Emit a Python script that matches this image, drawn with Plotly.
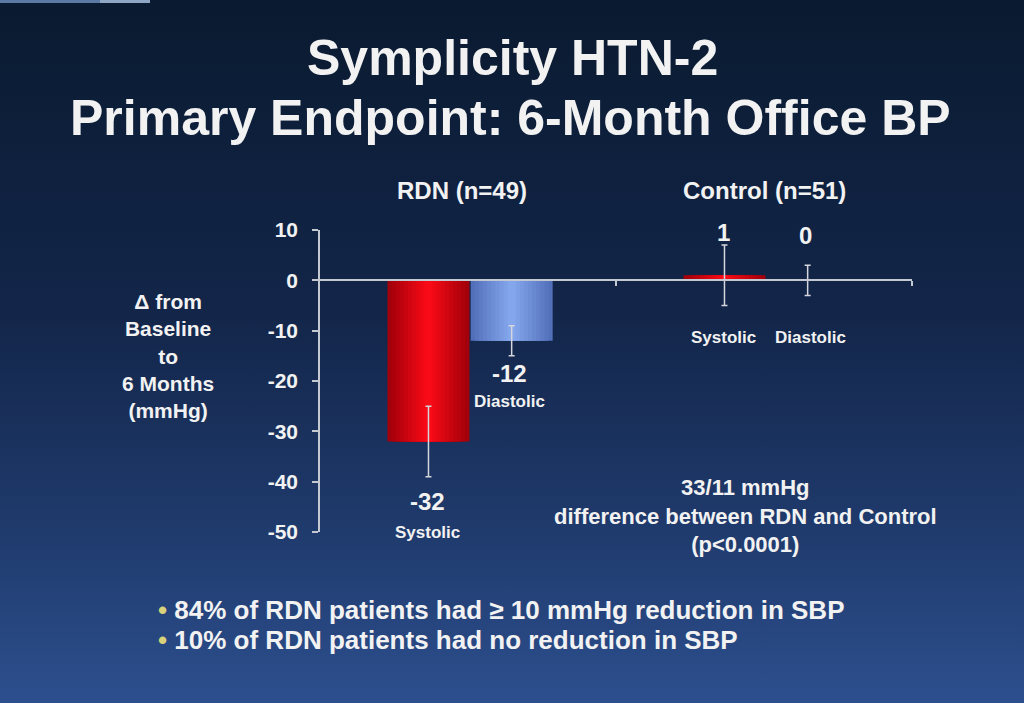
import base64
import plotly.graph_objects as go

# data
groups = ["RDN (n=49)", "Control (n=51)"]
systolic = [-32, 1]
diastolic = [-12, 0]
systolic_err = [7, 6]
diastolic_err = [3, 3]
y_ticks = [10, 0, -10, -20, -30, -40, -50]

W, H = 1024, 703
L, R, T, B = 320, 112, 230, 171
PW, PH = W - L - R, H - T - B


def px(x):
    return (x - L) / PW


def py(y):
    return (H - B - y) / PH


x_pos = list(range(len(groups)))
bw = 0.277  # width of one bar in category units
gap = 0.004


def mix(c1, c2, t):
    a = [int(c1[i:i + 2], 16) for i in (1, 3, 5)]
    b = [int(c2[i:i + 2], 16) for i in (1, 3, 5)]
    return "#" + "".join("%02x" % round(p + (q - p) * t) for p, q in zip(a, b))


# layered bars to fake the cylinder shading of the slide
n_layers = 10
fracs = [1 - k / n_layers for k in range(n_layers)]
red_shades = [mix("#a2000a", "#f80a16", k / (n_layers - 1)) for k in range(n_layers)]
blue_shades = [mix("#5270ba", "#84a6ec", k / (n_layers - 1)) for k in range(n_layers)]

fig = go.Figure()
for vals, errs, shades, centre in [(systolic, systolic_err, red_shades, -bw / 2 + 0.005),
                                   (diastolic, diastolic_err, blue_shades, bw / 2 + 0.005 + gap)]:
    for f, c in zip(fracs, shades):
        fig.add_trace(go.Bar(x=x_pos, y=vals, width=f * bw, offset=centre - f * bw / 2,
                             marker=dict(color=c, line=dict(width=0)), hoverinfo="skip"))
    fig.add_trace(go.Bar(
        x=x_pos, y=vals, width=bw, offset=centre - bw / 2,
        marker=dict(color="rgba(0,0,0,0)", line=dict(width=0)),
        error_y=dict(type="data", array=errs, color="#d4d6dc", thickness=1.5, width=3),
    ))

# background gradient of the slide
svg = ('<svg xmlns="http://www.w3.org/2000/svg" width="1024" height="703">'
       '<defs><linearGradient id="g" x1="0" y1="0" x2="0" y2="1">'
       '<stop offset="0" stop-color="#0a1a30"/>'
       '<stop offset="0.45" stop-color="#13264a"/>'
       '<stop offset="0.75" stop-color="#1f3a6c"/>'
       '<stop offset="1" stop-color="#2d4f8e"/>'
       '</linearGradient></defs>'
       '<rect width="1024" height="703" fill="url(#g)"/>'
       '<rect width="100" height="3" fill="#5b7aa3"/>'
       '<rect x="100" width="50" height="3" fill="#8fa6c4"/></svg>')
bg = "data:image/svg+xml;base64," + base64.b64encode(svg.encode()).decode()

font = "Liberation Sans, Arial, sans-serif"
white = "#f2f2f2"
ann = []


def add(text, x, y, size, xref="paper", yref="paper", xanchor="center", color=white):
    ann.append(dict(text=text, x=x, y=y, xref=xref, yref=yref, showarrow=False,
                    xanchor=xanchor, yanchor="middle",
                    font=dict(family=font, size=size, color=color, weight="bold")))


add("Symplicity HTN-2", px(512), py(58), 50)
add("Primary Endpoint: 6-Month Office BP", px(510), py(118), 50)

add(groups[0], -0.02, py(190), 24, xref="x")
add(groups[1], 1.0, py(190), 24, xref="x")

add("\u0394 from<br>Baseline<br>to<br>6 Months<br>(mmHg)", px(168), py(356), 21)

off = bw / 2
# RDN labels
add(str(systolic[0]), 0 - off, -44, 24, xref="x", yref="y")
add("Systolic", 0 - off, -50, 17, xref="x", yref="y")
add(str(diastolic[0]), 0 + off, -18.5, 24, xref="x", yref="y")
add("Diastolic", 0 + off, -24, 17, xref="x", yref="y")
# Control labels
add(str(systolic[1]), 1 - off, 9.6, 24, xref="x", yref="y")
add(str(diastolic[1]), 1 + off, 9.0, 24, xref="x", yref="y")
add("Systolic", 1 - off, -11.3, 17, xref="x", yref="y")
add("Diastolic", 1 + off + 0.02, -11.3, 17, xref="x", yref="y")

add("33/11 mmHg<br>difference between RDN and Control<br>(p<0.0001)", px(745), py(516), 22)

bullet = '<span style="color:#d9d27a">\u2022</span> '
add(bullet + "84% of RDN patients had \u2265 10 mmHg reduction in SBP", px(156), py(610), 26, xanchor="left")
add(bullet + "10% of RDN patients had no reduction in SBP", px(156), py(640), 26, xanchor="left")

axis_col = "#c4c8d0"
fig.update_layout(
    width=W, height=H,
    margin=dict(l=L, r=R, t=T, b=B, pad=0),
    paper_bgcolor="#0a1a30", plot_bgcolor="rgba(0,0,0,0)",
    barmode="overlay",
    showlegend=False,
    annotations=ann,
    images=[dict(source=bg, xref="paper", yref="paper", x=px(0), y=py(0),
                 sizex=W / PW, sizey=H / PH, sizing="stretch", layer="below",
                 xanchor="left", yanchor="top")],
    xaxis=dict(range=[-0.5, 1.5], showgrid=False, zeroline=False, showline=True,
               linecolor=axis_col, linewidth=1.5, tickvals=[0.5, 1.5], ticks="outside",
               ticklen=5, tickcolor=axis_col, tickwidth=1.5, showticklabels=False,
               anchor="free", position=py(280)),
    yaxis=dict(range=[-50, 10], tickvals=y_ticks, ticktext=[str(v) for v in y_ticks],
               showgrid=False, zeroline=False,
               showline=True, linecolor=axis_col, linewidth=1.5, ticks="outside",
               ticklen=6, tickcolor=axis_col, tickwidth=1.5, ticklabelstandoff=10,
               tickfont=dict(family=font, size=21, color=white, weight="bold")),
)

fig.write_html("out.html", config={"displayModeBar": False},
               post_script="document.body.style.margin='0px';document.body.style.overflow='hidden';")
